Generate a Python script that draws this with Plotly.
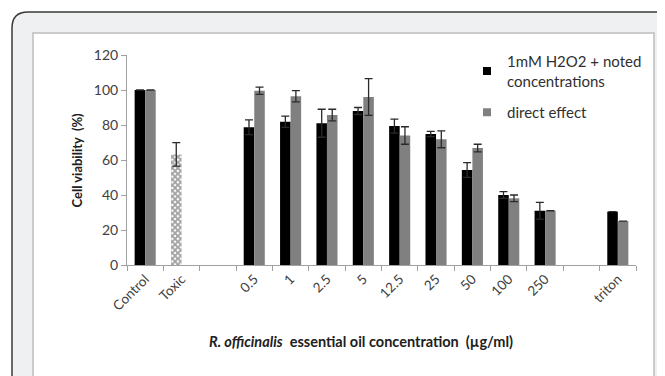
import plotly.graph_objects as go

categories = ["Control", "Toxic", " ", "0.5", "1", "2.5", "5", "12.5", "25", "50", "100", "250", "  ", "triton"]
h2o2_values = [100, 63.2, None, 78.7, 81.9, 81.0, 88.0, 79.4, 74.8, 54.3, 40.0, 31.0, None, 30.5]
h2o2_errors = [None, 6.7, None, 4.2, 3.2, 8.0, 2.0, 4.0, 1.5, 4.2, 1.9, 4.8, None, None]
direct_values = [100, None, None, 99.6, 96.4, 85.7, 96.0, 74.0, 71.8, 66.8, 38.1, 31.0, None, 25.1]
direct_errors = [0, None, None, 2.1, 3.2, 3.3, 10.5, 5.0, 4.8, 2.2, 1.9, None, None, None]
series_names = ["1mM H2O2 + noted<br>concentrations", "direct effect"]
y_ticks = [0, 20, 40, 60, 80, 100, 120]

FONT = "Lato"
TXT = "#404040"

# the page body adds an 8px margin; all pixel positions below are window pixels
OFF = 8
L, R, T, B = 127, 636, 55, 265
W, H = 665, 376
def fx(px):
    return (px - L) / (R - L)
def fy(py):
    return (B - py) / (B - T)

pattern_shapes = ["x" if c == "Toxic" else "" for c in categories]
h2o2_colors = ["#ffffff" if c == "Toxic" else "#000000" for c in categories]

fig = go.Figure()
fig.add_trace(go.Bar(
    x=categories, y=h2o2_values, showlegend=False,
    marker=dict(color=h2o2_colors, line=dict(width=0),
                pattern=dict(shape=pattern_shapes, fgcolor="#333333", bgcolor="#ffffff",
                             size=4, solidity=0.7)),
    error_y=dict(type="data", array=h2o2_errors, color="#2a2a2a", thickness=1.3, width=4),
))
fig.add_trace(go.Bar(
    x=categories, y=direct_values, showlegend=False,
    marker=dict(color="#808080", line=dict(width=0)),
    error_y=dict(type="data", array=direct_errors, color="#2a2a2a", thickness=1.3, width=4),
))
for i, (name, col) in enumerate(zip(series_names, ["#000000", "#808080"])):
    fig.add_trace(go.Scatter(x=[None], y=[None], mode="markers", name=name,
                             legendgroup=f"g{i}",
                             marker=dict(symbol="square", size=8, color=col)))

card = (f"M {fx(12)},{fy(420)} L {fx(12)},{fy(28)} Q {fx(12)},{fy(12)} {fx(28)},{fy(12)} "
        f"L {fx(720)},{fy(12)} L {fx(720)},{fy(420)} Z")
shapes = [
    dict(type="path", xref="paper", yref="paper", path=card, layer="below",
         fillcolor="#eff0f2", line=dict(color="#3a3a3a", width=1.5)),
    dict(type="rect", xref="paper", yref="paper", x0=fx(33), x1=fx(654), y0=fy(420), y1=fy(33),
         layer="below", fillcolor="#ffffff", line=dict(color="#bdbdbd", width=1.5)),
]

fig.update_layout(
    width=W - OFF, height=H - OFF,
    margin=dict(l=L - OFF, r=W - R, t=T - OFF, b=H - B),
    paper_bgcolor="#ffffff", plot_bgcolor="rgba(0,0,0,0)",
    barmode="group", bargap=0.42, bargroupgap=0,
    font=dict(family=FONT, size=14, color=TXT),
    shapes=shapes,
    legend=dict(x=fx(467), y=fy(45), xanchor="left", yanchor="top",
                font=dict(family=FONT, size=15, color="#303030"),
                bgcolor="rgba(0,0,0,0)", tracegroupgap=9, itemwidth=30),
    xaxis=dict(type="category", range=[-0.5, len(categories) - 0.5],
               showline=True, linecolor="#a0a0a0", linewidth=1,
               ticks="outside", tickson="boundaries", ticklen=5, tickcolor="#a0a0a0",
               tickangle=-45, tickfont=dict(family=FONT, size=13.5, color=TXT),
               showgrid=False, zeroline=False),
    yaxis=dict(range=[0, 120], tickvals=y_ticks, showline=True, linecolor="#a0a0a0", linewidth=1,
               ticks="outside", ticklen=5, tickcolor="#a0a0a0",
               tickfont=dict(family=FONT, size=14, color=TXT),
               showgrid=False, zeroline=False),
    annotations=[
        dict(text="<b>Cell viability  (%)</b>", xref="paper", yref="paper",
             x=fx(66.5), y=fy(160), textangle=-90, showarrow=False,
             font=dict(family=FONT, size=13, color="#202020")),
        dict(text="<b><i>R. officinalis</i>  essential oil concentration  (µg/ml)</b>",
             xref="paper", yref="paper", x=fx(361), y=fy(352), showarrow=False,
             font=dict(family=FONT, size=14.5, color="#202020")),
    ],
)

fig.write_html("out.html")
